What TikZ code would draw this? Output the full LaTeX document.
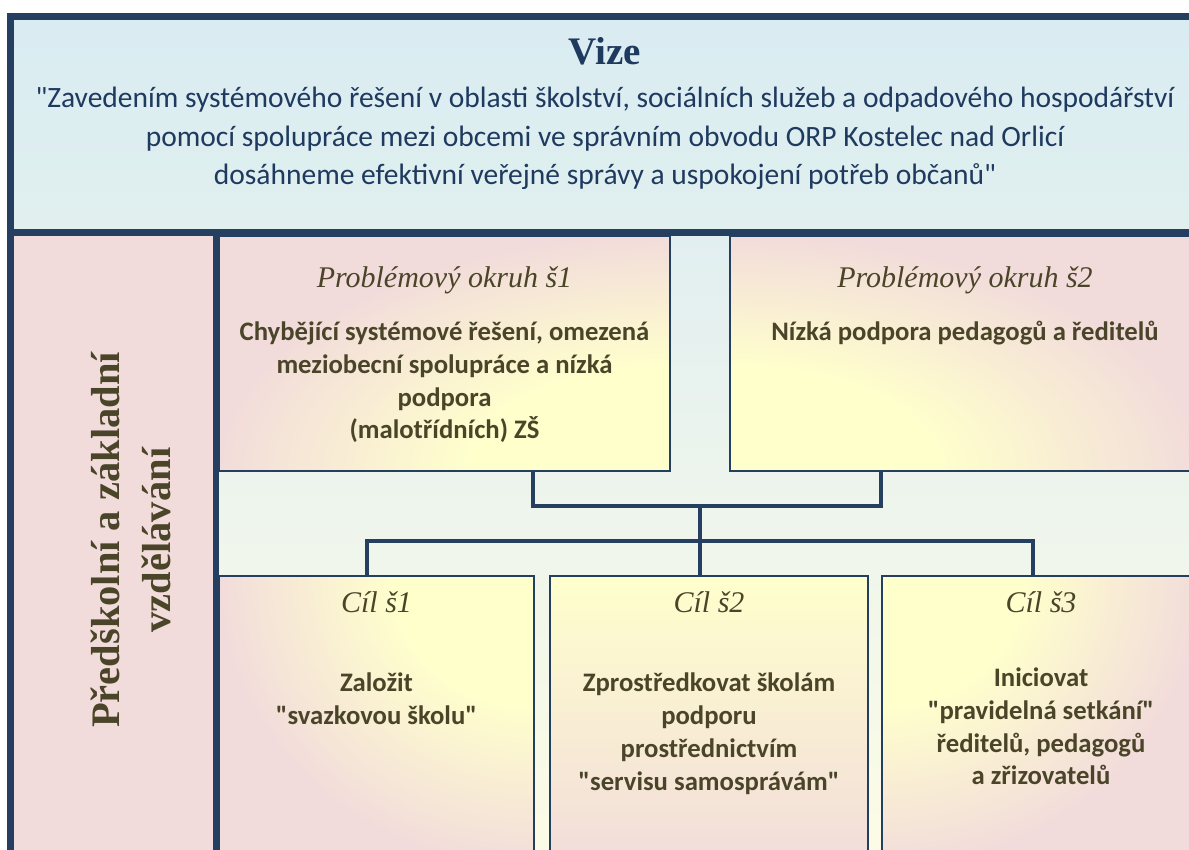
\documentclass[tikz,border=0pt]{standalone}
\usepackage{fontspec}
\setmainfont{Liberation Serif}
\setsansfont{Carlito}[Ligatures=TeXOff]
\usetikzlibrary{positioning}

\definecolor{framenavy}{HTML}{243F60}
\definecolor{vizetext}{HTML}{1F3A5F}
\definecolor{boxtext}{HTML}{4A4529}
\definecolor{boxpink}{HTML}{F2DCDB}
\definecolor{boxyellow}{HTML}{FFFFCC}
\definecolor{vizetop}{HTML}{D9ECF2}
\definecolor{vizebot}{HTML}{E1F0EF}
\definecolor{midtop}{HTML}{E2EFF1}
\definecolor{midmid}{HTML}{F2F7E7}
\definecolor{midbot}{HTML}{FCFCE6}

% yellow in one corner of a box, pink towards the others
\pgfdeclareradialshading{boxglow}{\pgfpoint{0bp}{0bp}}{color(0bp)=(boxyellow); color(11bp)=(boxyellow); color(25bp)=(boxpink); color(50bp)=(boxpink)}

\tikzset{
x=1pt, y=1pt, % one unit is one pixel of the picture
frameline/.style={draw=framenavy, line width=7pt},
box/.style={draw=framenavy, fill=boxpink, line width=2pt, rectangle, anchor=north west, inner sep=0pt, outer sep=0pt},
glow/.style n args={3}{path picture={\shade[shading=boxglow] (path picture bounding box.#1) ellipse (#2 and #3);}},
topglow/.style={path picture={\shade[top color=boxyellow, bottom color=boxpink] (path picture bounding box.south west) rectangle (path picture bounding box.north east);}},
link/.style={draw=framenavy, line width=4pt},
heading/.style={font=\itshape\fontsize{30}{34}\selectfont, text=boxtext, inner sep=0pt, anchor=base},
body/.style={font=\sffamily\bfseries\fontsize{26.7}{32.7}\selectfont, text=boxtext, align=center, inner sep=0pt, anchor=base},
}

\begin{document}
\begin{tikzpicture}
    \useasboundingbox (0,0) rectangle (1189,849);
    \clip (0,0) rectangle (1189,849);

    % vision, side panel and the space between the boxes
    \node[anchor=north west, minimum width=1186, minimum height=212.5, inner sep=0pt, outer sep=0pt, top color=vizetop, bottom color=vizebot] (vize) at (14,829) {};
    \node[anchor=north west, minimum width=202, minimum height=700, inner sep=0pt, outer sep=0pt, fill=boxpink] (panel) at (14,616.5) {};
    \shade[top color=midtop, middle color=midmid, bottom color=midbot] (219,0) rectangle (1200,613);

    % problem areas and goals
    \node[box, glow={south east}{451}{235}, minimum width=451, minimum height=235] (p1) at (219,613) {};
    \node[box, glow={south west}{470}{235}, minimum width=470, minimum height=235] (p2) at (730,613) {};
    \node[box, glow={north east}{315}{290}, minimum width=315, minimum height=290] (g1) at (219,273) {};
    \node[box, topglow, minimum width=318, minimum height=290] (g2) at (550,273) {};
    \node[box, glow={north west}{318}{290}, minimum width=318, minimum height=290] (g3) at (882,273) {};

    % connectors
    \coordinate (kl) at (533,343);
    \coordinate (km) at (700,343);
    \coordinate (kr) at (881,343);
    \coordinate (bl) at (367,308);
    \coordinate (br) at (1033,308);
    \draw[link] (kl |- p1.south) -- (kl) -- (kr) -- (kr |- p2.south);
    \draw[link] (km) -- (km |- g2.north);
    \draw[link] (bl |- g1.north) -- (bl) -- (br) -- (br |- g3.north);

    % frame
    \draw[frameline] (10.5,832.5) rectangle (1203.5,-80);
    \draw[frameline] (vize.south west) -- (vize.south east);
    \draw[framenavy, line width=6pt] (panel.north east) -- (panel.south east);

    % texts
    \node[font=\bfseries\fontsize{39}{42}\selectfont, text=vizetext, inner sep=0pt, anchor=base] (vtitle) at (605,784) {Vize};
    \node[below=120pt of vtitle.base, font=\sffamily\fontsize{29.5}{38.5}\selectfont, text=vizetext, align=center, inner sep=0pt, anchor=base] (vtext)
        {"Zavedením systémového řešení v oblasti školství, sociálních služeb a odpadového hospodářství\\
         pomocí spolupráce mezi obcemi ve správním obvodu ORP Kostelec nad Orlicí\\
         dosáhneme efektivní veřejné správy a uspokojení potřeb občanů"};

    \node[font=\bfseries\fontsize{40.5}{51}\selectfont, text=boxtext, rotate=90, align=center, inner sep=0pt, anchor=base] (ptext) at (170,309)
        {Předškolní a základní\\vzdělávání};

    \node[below=52pt of p1.north, heading] (p1title) {Problémový okruh š1};
    \node[below=203pt of p1.north, body] (p1text) {Chybějící systémové řešení, omezená\\meziobecní spolupráce a nízká\\podpora\\(malotřídních) ZŠ};
    \node[below=52pt of p2.north, heading] (p2title) {Problémový okruh š2};
    \node[below=105pt of p2.north, body] (p2text) {Nízká podpora pedagogů a ředitelů};

    \node[below=37pt of g1.north, heading] (g1title) {Cíl š1};
    \node[below=148.7pt of g1.north, body] (g1text) {Založit\\"svazkovou školu"};
    \node[below=37pt of g2.north, heading] (g2title) {Cíl š2};
    \node[below=214pt of g2.north, body] (g2text) {Zprostředkovat školám\\podporu\\prostřednictvím\\"servisu samosprávám"};
    \node[below=37pt of g3.north, heading] (g3title) {Cíl š3};
    \node[below=209pt of g3.north, body] (g3text) {Iniciovat\\"pravidelná setkání"\\ředitelů, pedagogů\\a zřizovatelů};
\end{tikzpicture}
\end{document}
